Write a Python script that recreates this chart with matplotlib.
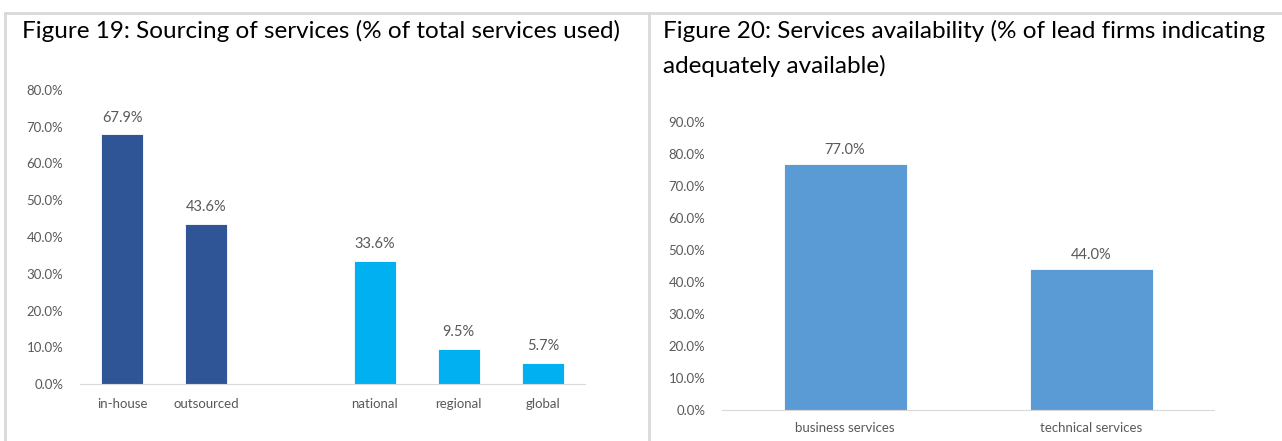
import matplotlib
matplotlib.use("Agg")
import matplotlib.pyplot as plt
from matplotlib.lines import Line2D
from matplotlib.ticker import PercentFormatter
import numpy as np

# sourcing of services (% of total services used)
src_labels = ["in-house", "outsourced", "", "national", "regional", "global"]
src_values = [67.9, 43.6, None, 33.6, 9.5, 5.7]
src_colors = ["#2F5597", "#2F5597", None, "#00B0F0", "#00B0F0", "#00B0F0"]

# services availability (% of lead firms)
avail_labels = ["business services", "technical services"]
avail_values = [77.0, 44.0]

W, H = 1282, 441
plt.rcParams["font.family"] = ["Lato", "DejaVu Sans"]
fig = plt.figure(figsize=(W / 100, H / 100), dpi=100, facecolor="white")

grey = "#595959"


def px_axes(x0, x1, y_top, y_base):
    return fig.add_axes([x0 / W, 1 - y_base / H, (x1 - x0) / W, (y_base - y_top) / H])


def style(ax, ymax):
    ax.set_ylim(0, ymax)
    ax.set_yticks(np.arange(0, ymax + 0.1, 10))
    ax.yaxis.set_major_formatter(PercentFormatter(decimals=1))
    for s in ["top", "right", "left"]:
        ax.spines[s].set_visible(False)
    ax.spines["bottom"].set_color("#d9d9d9")
    ax.tick_params(axis="both", length=0, colors=grey, labelsize=9.5)
    ax.tick_params(axis="y", pad=12)


# left chart
ax1 = px_axes(80, 585, 90, 384)
xs = np.arange(len(src_labels))
for x, v, c in zip(xs, src_values, src_colors):
    if v is None:
        continue
    ax1.bar(x, v, width=0.5, color=c, edgecolor="white", linewidth=0.6)
    ax1.annotate(f"{v:.1f}%", (x, v), xytext=(0, 7), textcoords="offset points",
                 ha="center", va="bottom", color=grey, fontsize=10.5)
ax1.set_xlim(-0.5, len(src_labels) - 0.5)
ax1.set_xticks(xs)
ax1.set_xticklabels(src_labels)
style(ax1, 80)
ax1.tick_params(axis="x", pad=10)

# right chart
ax2 = px_axes(722, 1214, 122, 410)
xs2 = np.arange(len(avail_labels))
ax2.bar(xs2, avail_values, width=0.5, color="#5B9BD5", edgecolor="white", linewidth=0.6)
for x, v in zip(xs2, avail_values):
    ax2.annotate(f"{v:.1f}%", (x, v), xytext=(0, 5), textcoords="offset points",
                 ha="center", va="bottom", color=grey, fontsize=10.5)
ax2.set_xlim(-0.5, len(avail_labels) - 0.5)
ax2.set_xticks(xs2)
ax2.set_xticklabels(avail_labels)
style(ax2, 90)
ax2.tick_params(axis="x", pad=9)

# titles, sized so the first line spans the panel width
t1 = fig.text(22 / W, 1 - 31 / H, "Figure 19: Sourcing of services (% of total services used)",
              fontsize=20, va="center", ha="left", color="black")
t2 = fig.text(663 / W, 1 - 31 / H, "Figure 20: Services availability (% of lead firms indicating",
              fontsize=20, va="center", ha="left", color="black")
t3 = fig.text(663 / W, 1 - 66 / H, "adequately available)",
              fontsize=20, va="center", ha="left", color="black")
r = fig.canvas.get_renderer()
size = 20 * 598 / t1.get_window_extent(r).width
for t in (t1, t2, t3):
    t.set_fontsize(size)

# panel frames
frame = dict(color="#d9d9d9", linewidth=2, transform=fig.transFigure)
fig.add_artist(Line2D([5 / W, 1], [1 - 13 / H, 1 - 13 / H], **frame))
fig.add_artist(Line2D([5 / W, 5 / W], [0, 1 - 13 / H], **frame))
fig.add_artist(Line2D([649 / W, 649 / W], [0, 1 - 13 / H], **frame))

fig.savefig("out.png", dpi=100, facecolor="white")
